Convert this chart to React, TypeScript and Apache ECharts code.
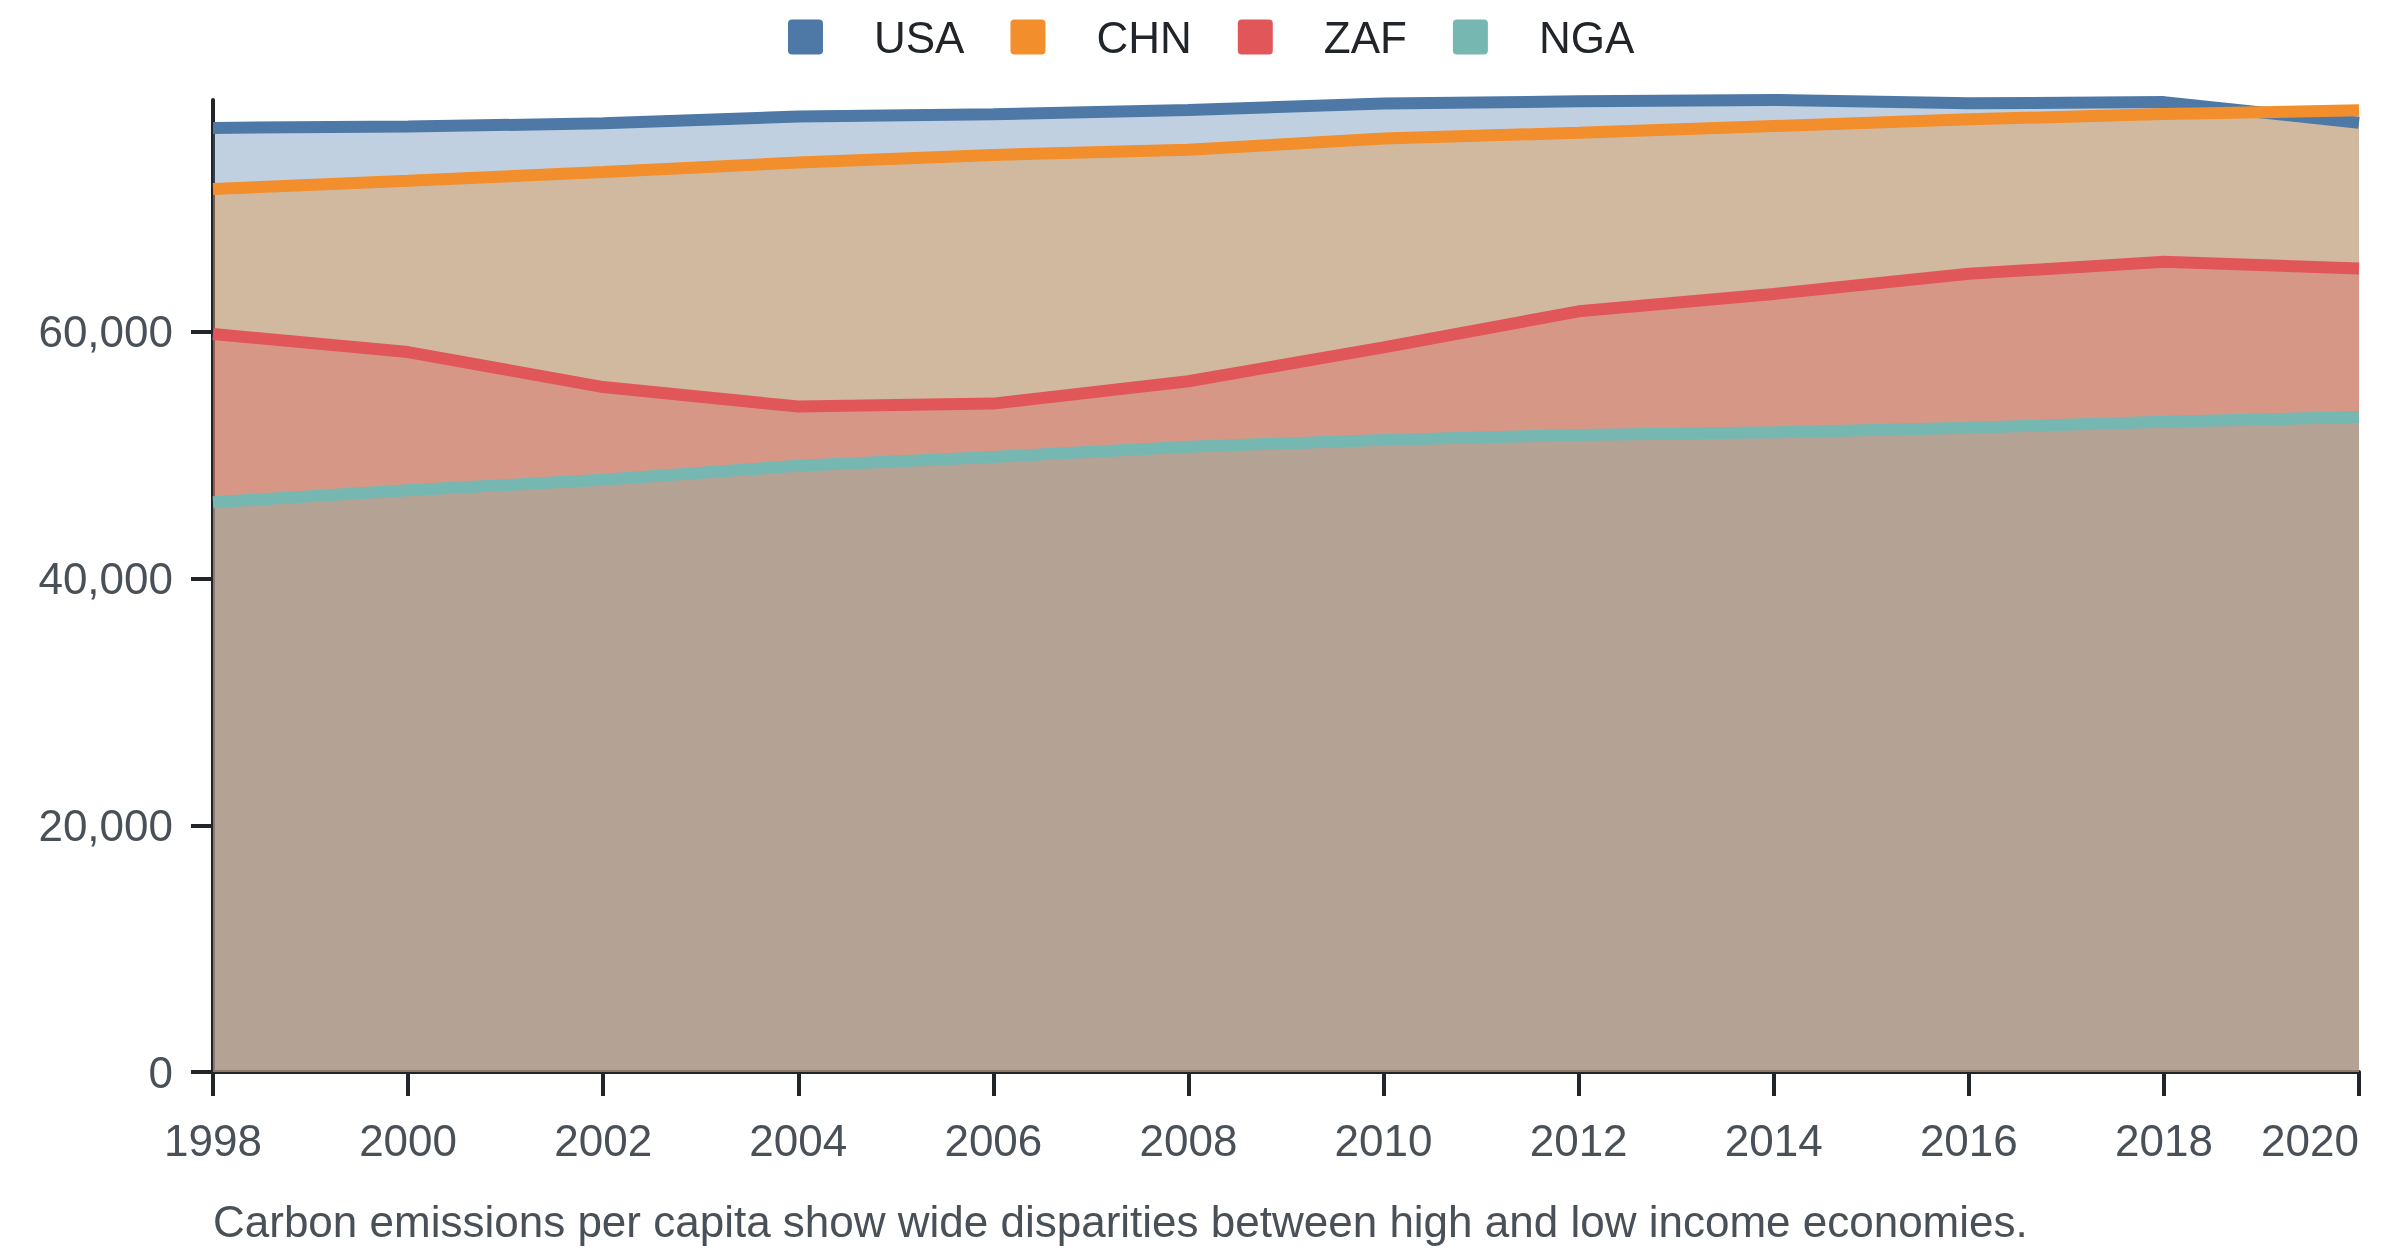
import { useEffect, useRef } from 'react'
import * as echarts from 'echarts'

const years = ['1998', '2000', '2002', '2004', '2006', '2008', '2010', '2012', '2014', '2016', '2018', '2020']

const usa = [76530, 76640, 76900, 77450, 77630, 77980, 78500, 78680, 78790, 78520, 78620, 76940]
const chn = [71570, 72250, 72950, 73720, 74340, 74760, 75670, 76130, 76680, 77220, 77650, 77960]
const zaf = [59820, 58360, 55520, 53940, 54180, 55990, 58740, 61660, 63070, 64700, 65680, 65130]
const nga = [46190, 47150, 48000, 49150, 49860, 50680, 51240, 51640, 51850, 52230, 52700, 53100]

const yTicks = [0, 20000, 40000, 60000]

const seriesList = [
  { name: 'USA', data: usa, color: '#4e79a7' },
  { name: 'CHN', data: chn, color: '#f28e2b' },
  { name: 'ZAF', data: zaf, color: '#e15759' },
  { name: 'NGA', data: nga, color: '#76b7b2' },
]

const caption = 'Carbon emissions per capita show wide disparities between high and low income economies.'

const font = '"Liberation Sans", Arial, sans-serif'
const axisColor = '#212529'
const labelColor = '#495057'

// square legend swatch with slightly rounded corners
const swatch = 'path://M4,0H31A4,4,0,0,1,35,4V31A4,4,0,0,1,31,35H4A4,4,0,0,1,0,31V4A4,4,0,0,1,4,0Z'

export default function App() {
  const chartRef = useRef<HTMLDivElement | null>(null)

  useEffect(() => {
    if (!chartRef.current) {
      return
    }

    const chart = echarts.init(chartRef.current, null, { renderer: 'svg' })

    chart.setOption({
      animation: false,
      textStyle: { fontFamily: font },
      legend: {
        left: 783,
        top: 10,
        icon: swatch,
        itemWidth: 35,
        itemHeight: 35,
        itemGap: 46,
        data: seriesList.map((s) => s.name),
        textStyle: {
          fontSize: 44,
          color: axisColor,
          fontFamily: font,
          padding: [0, 0, 0, 46],
        },
      },
      grid: {
        left: 213,
        right: 41,
        top: 100,
        bottom: 184,
      },
      xAxis: {
        type: 'category',
        data: years,
        boundaryGap: false,
        axisLine: {
          lineStyle: { color: axisColor, width: 4 },
        },
        axisTick: {
          alignWithLabel: true,
          length: 24,
          lineStyle: { color: axisColor, width: 4 },
        },
        axisLabel: {
          fontSize: 44,
          color: labelColor,
          fontFamily: font,
          margin: 46,
          interval: 0,
          alignMaxLabel: 'right',
        },
        splitLine: { show: false },
      },
      yAxis: {
        type: 'value',
        min: 0,
        max: 'dataMax',
        axisLine: {
          show: true,
          lineStyle: { color: axisColor, width: 4 },
        },
        axisTick: {
          show: true,
          length: 22,
          customValues: yTicks,
          lineStyle: { color: axisColor, width: 4 },
        },
        axisLabel: {
          fontSize: 44,
          color: labelColor,
          fontFamily: font,
          margin: 40,
          customValues: yTicks,
          formatter: (v: number) => v.toLocaleString('en-US'),
        },
        splitLine: { show: false },
      },
      graphic: [
        {
          type: 'text',
          left: 213,
          top: 1199,
          style: {
            text: caption,
            fontSize: 44,
            fill: labelColor,
            fontFamily: font,
          },
        },
      ],
      series: seriesList.map((s) => ({
        name: s.name,
        type: 'line',
        data: s.data,
        color: s.color,
        showSymbol: false,
        symbol: 'none',
        lineStyle: { width: 12, color: s.color },
        areaStyle: { color: s.color, opacity: 0.35 },
      })),
    })

    return () => {
      chart.dispose()
    }
  }, [])

  return (
    <div
      ref={chartRef}
      style={{ position: 'fixed', left: 0, top: 0, width: 2400, height: 1256 }}
    />
  )
}
